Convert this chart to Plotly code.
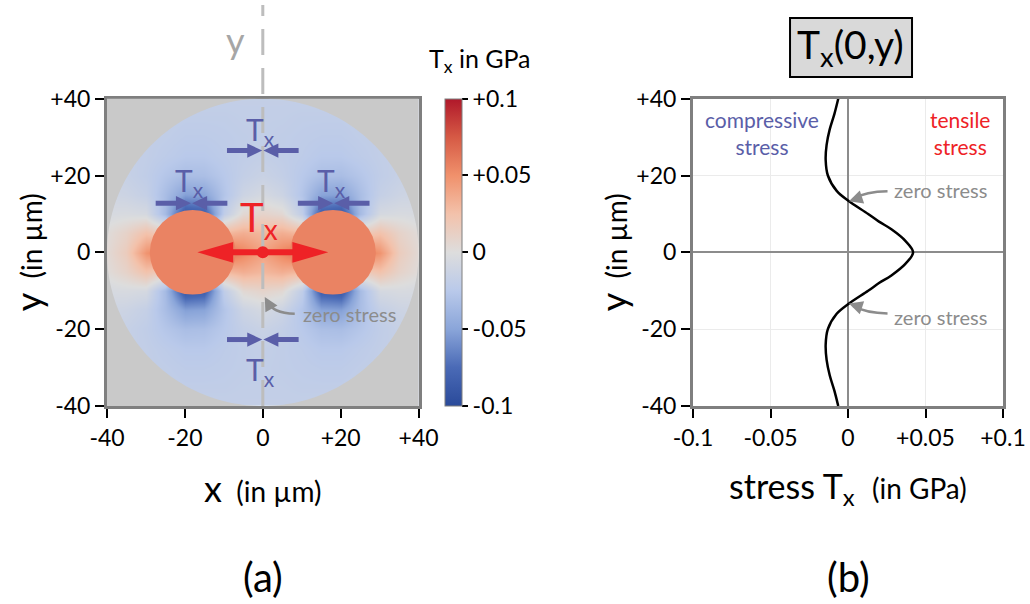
import numpy as np
import plotly.graph_objects as go

# ---------------- data ----------------
# Panel (a): stress field Tx (GPa) read on a 5 µm grid, first quadrant (x>=0, y>=0);
# the field is mirror-symmetric in x and y.
grid_x = [0, 5, 10, 15, 20, 25, 30, 35, 40]
grid_y = [0, 5, 10, 15, 20, 25, 30, 35, 40]
tx_quadrant = [
    [0.041, 0.055, 0.070, 0.067, 0.065, 0.063, 0.048, 0.016, 0.004],     # y = 0
    [0.030, 0.035, 0.029, -0.045, -0.065, 0.016, 0.024, 0.010, 0.002],   # y = 5
    [0.009, 0.005, -0.020, -0.085, -0.090, -0.035, -0.006, -0.004, -0.005],  # y = 10
    [-0.006, -0.012, -0.028, -0.050, -0.052, -0.033, -0.017, -0.012, -0.010],  # y = 15
    [-0.014, -0.018, -0.025, -0.032, -0.033, -0.027, -0.020, -0.016, -0.014],  # y = 20
    [-0.018, -0.020, -0.022, -0.025, -0.025, -0.022, -0.019, -0.017, -0.016],  # y = 25
    [-0.019, -0.020, -0.021, -0.022, -0.022, -0.020, -0.019, -0.018, -0.017],  # y = 30
    [-0.019, -0.019, -0.020, -0.020, -0.020, -0.019, -0.018, -0.017, -0.017],  # y = 35
    [-0.018, -0.018, -0.018, -0.018, -0.018, -0.018, -0.017, -0.017, -0.017],  # y = 40
]
inclusion_centers = [-18, 18]   # µm
inclusion_radius = 11           # µm
disk_radius = 40                # µm

# Panel (b): profile Tx(0, y)
y_line = [40, 36, 32, 28, 24, 20, 16, 13.5, 10, 8, 6, 3, 0,
          -3, -6, -8, -10, -13.5, -16, -20, -24, -28, -32, -36, -40]
tx_line = [-0.0063, -0.0088, -0.0118, -0.0138, -0.0144, -0.0130, -0.0073, 0.0, 0.013, 0.020,
           0.028, 0.037, 0.042,
           0.037, 0.028, 0.020, 0.013, 0.0, -0.0073, -0.0130, -0.0144, -0.0138, -0.0118, -0.0088, -0.0063]

pos_ticks = [-40, -20, 0, 20, 40]
pos_ticktext = ['-40', '-20', '0', '+20', '+40']
stress_ticks = [-0.1, -0.05, 0, 0.05, 0.1]
stress_ticktext = ['-0.1', '-0.05', '0', '+0.05', '+0.1']

# ---------------- build full field by mirroring ----------------
Q = np.array(tx_quadrant)
rows = np.vstack([Q[:0:-1], Q])
field = np.hstack([rows[:, :0:-1], rows])
xs_full = [-v for v in grid_x[:0:-1]] + grid_x
ys_full = [-v for v in grid_y[:0:-1]] + grid_y

FONT = "Lato"
BLUE = "#5A5EA8"
RED = "#EE2226"
GRAY_TXT = "#8C8C8C"
FRAME = "#7F7F7F"
TICK = 23

W, H = 1030, 604
def px(x):
    return x / W
def py(y):
    return 1 - y / H

colorscale = [
    [0.0, '#2A4A9A'], [0.125, '#4A6AB6'], [0.25, '#8AA5D9'], [0.375, '#B9C9EA'],
    [0.5, '#DDDDDD'], [0.625, '#F3C2AB'], [0.75, '#F0916C'], [0.875, '#D65A45'],
    [1.0, '#B0182A']]

fig = go.Figure()
fig.add_trace(go.Heatmap(
    x=xs_full, y=ys_full, z=field, zmin=-0.1, zmax=0.1, zsmooth='best',
    colorscale=colorscale, xaxis='x', yaxis='y', hoverinfo='skip',
    colorbar=dict(x=px(445), xanchor='left', xpad=0, y=py(252), yanchor='middle',
                  len=307 / H, ypad=0, thickness=17, outlinewidth=1, outlinecolor=FRAME,
                  ticks='outside', ticklen=6, tickwidth=2, tickcolor='black',
                  tickvals=stress_ticks, ticktext=stress_ticktext,
                  tickfont=dict(family=FONT, size=TICK, color='black'))))

fig.add_trace(go.Scatter(
    x=tx_line, y=y_line, mode='lines', xaxis='x2', yaxis='y2',
    line=dict(color='black', width=2.5, shape='spline'), hoverinfo='skip', showlegend=False))

shapes = []
# gray region outside the disk
theta = np.linspace(0, 2 * np.pi, 241)
circ = " ".join(f"L{disk_radius*np.cos(t):.3f},{disk_radius*np.sin(t):.3f}" for t in theta[1:])
mask_path = f"M-60,-60 L60,-60 L60,60 L-60,60 Z M{disk_radius:.3f},0 " + circ + " Z"
shapes.append(dict(type='path', path=mask_path, xref='x', yref='y', fillcolor='#C9C9C9',
                   fillrule='evenodd', line=dict(width=0)))
# inclusions
for c in inclusion_centers:
    shapes.append(dict(type='circle', xref='x', yref='y',
                       x0=c - inclusion_radius, x1=c + inclusion_radius,
                       y0=-inclusion_radius, y1=inclusion_radius,
                       fillcolor='#EA8363', line=dict(width=0)))
# dashed y line
shapes.append(dict(type='line', xref='x domain', yref='y domain', x0=0.5, x1=0.5,
                   y0=0, y1=(406 - 5) / 307.3,
                   line=dict(color='#BDBDBD', width=3, dash='26px,13px')))

def compress_arrow(cx, cy, color=BLUE):
    out = []
    for s in (-1, 1):
        out.append(dict(type='line', xref='x', yref='y', x0=cx + s * 9.2, x1=cx + s * 3.6,
                        y0=cy, y1=cy, line=dict(color=color, width=5)))
        out.append(dict(type='path', xref='x', yref='y',
                        path=f"M{cx + s*0.15:.2f},{cy:.2f} L{cx + s*4.0:.2f},{cy + 1.85:.2f} "
                             f"L{cx + s*4.0:.2f},{cy - 1.85:.2f} Z",
                        fillcolor=color, line=dict(width=0)))
    return out

for (cx, cy) in [(0, 26.5), (-18.3, 12.8), (18.2, 12.8), (0, -22.7)]:
    shapes += compress_arrow(cx, cy)

# red double arrow (tension)
shapes.append(dict(type='line', xref='x', yref='y', x0=-8.5, x1=8.5, y0=0, y1=0,
                   line=dict(color=RED, width=6)))
for s in (-1, 1):
    shapes.append(dict(type='path', xref='x', yref='y',
                       path=f"M{s*16.8:.2f},0 L{s*7.6:.2f},2.7 L{s*7.6:.2f},-2.7 Z",
                       fillcolor=RED, line=dict(width=0)))
shapes.append(dict(type='circle', xref='x', yref='y', xsizemode='pixel', ysizemode='pixel',
                   xanchor=0, yanchor=0, x0=-6, x1=6, y0=-6, y1=6,
                   fillcolor=RED, line=dict(width=0)))

# curved "zero stress" arrows
shapes.append(dict(type='path', xref='x', yref='y', path="M8.2,-16.0 Q2.4,-15.9 1.2,-12.6",
                   line=dict(color=GRAY_TXT, width=2.5)))
shapes.append(dict(type='path', xref='x2', yref='y2', path="M0.0255,15.9 Q0.0116,15.8 0.0035,14.0",
                   line=dict(color=GRAY_TXT, width=2.5)))
shapes.append(dict(type='path', xref='x2', yref='y2', path="M0.0255,-15.9 Q0.0116,-15.8 0.0035,-14.0",
                   line=dict(color=GRAY_TXT, width=2.5)))

# title box of panel (b)
shapes.append(dict(type='rect', xref='x2', yref='paper', x0=-0.0374, x1=0.0413,
                   y0=py(77), y1=py(18), fillcolor='#D9D9D9', line=dict(color='black', width=2)))

ann = []
def text(t, x, y, size, color='black', xref='x', yref='y', **kw):
    ann.append(dict(text=t, x=x, y=y, xref=xref, yref=yref, showarrow=False,
                    xanchor='center', yanchor='middle',
                    font=dict(family=FONT, size=size, color=color), **kw))

def head(x, y, ax, ay, xref, yref):
    ann.append(dict(text='', x=x, y=y, xref=xref, yref=yref, ax=ax, ay=ay, showarrow=True,
                    arrowhead=2, arrowsize=1.1, arrowwidth=2.5, arrowcolor=GRAY_TXT, standoff=0))

head(0.5, -11.6, 5, 9, 'x', 'y')
head(0.0006, 13.3, 9, -3, 'x2', 'y2')
head(0.0006, -13.3, 9, 3, 'x2', 'y2')

# panel (a) texts
text('y', -7, py(40), 36, '#A6A6A6', yref='paper')
text('zero stress', 22.2, -16.0, 20, GRAY_TXT)
for (tx, ty) in [(-0.5, 31.6), (-18.8, 18.3), (17.6, 18.3), (-0.7, -31.0)]:
    text('T<sub>x</sub>', tx, ty, 30, BLUE)
text('T<sub>x</sub>', -1.0, 8.6, 40, RED)
text('T<sub>x</sub> in GPa', px(480), py(60), 25, xref='paper', yref='paper')
text('<span style="font-size:36px">x</span>\u00a0\u00a0(in µm)', 0, py(488), 28, yref='paper')
text('<span style="font-size:36px">y</span>\u00a0\u00a0(in µm)', px(28), 0, 28, xref='paper',
     textangle=-90)
text('(a)', 0, py(577), 40, yref='paper')

# panel (b) texts
text('T<sub>x</sub>(0,y)', 0.0018, py(47), 39, xref='x2', yref='paper')
text('compressive<br>stress', -0.0555, 31, 21, BLUE, xref='x2', yref='y2')
text('tensile<br>stress', 0.0723, 31, 21, RED, xref='x2', yref='y2')
text('zero stress', 0.0597, 16.3, 20, GRAY_TXT, xref='x2', yref='y2')
text('zero stress', 0.0597, -16.8, 20, GRAY_TXT, xref='x2', yref='y2')
text('stress T<sub>x</sub>\u00a0\u00a0<span style="font-size:28px">(in GPa)</span>', 0.0, py(488), 34,
     xref='x2', yref='paper')
text('<span style="font-size:36px">y</span>\u00a0\u00a0(in µm)', px(613), 0, 28, xref='paper',
     yref='y2', textangle=-90)
text('(b)', 0, py(577), 40, xref='x2', yref='paper')

axis_common = dict(showline=True, linecolor=FRAME, linewidth=3, mirror=True,
                   ticks='outside', ticklen=9, tickwidth=2, tickcolor='black', automargin=False,
                   tickfont=dict(family=FONT, size=TICK, color='black'))

fig.update_layout(
    width=W, height=H, margin=dict(l=0, r=0, t=0, b=0, autoexpand=False),
    paper_bgcolor='white', plot_bgcolor='white', showlegend=False,
    font=dict(family=FONT),
    xaxis=dict(domain=[px(107), px(418.6)], range=[-40, 40], tickvals=pos_ticks,
               ticktext=pos_ticktext, showgrid=False, zeroline=False, anchor='y', **axis_common),
    yaxis=dict(domain=[py(406), py(98.7)], range=[-40, 40], tickvals=pos_ticks,
               ticktext=pos_ticktext, showgrid=False, zeroline=False, anchor='x', **axis_common),
    xaxis2=dict(domain=[px(693), px(1003)], range=[-0.1, 0.1], tickvals=stress_ticks,
                ticktext=stress_ticktext, showgrid=True, gridcolor='#EBEBEB', gridwidth=1,
                zeroline=True, zerolinecolor='#8C8C8C', zerolinewidth=1.5, anchor='y2',
                **axis_common),
    yaxis2=dict(domain=[py(406), py(98.7)], range=[-40, 40], tickvals=pos_ticks,
                ticktext=pos_ticktext, showgrid=True, gridcolor='#EBEBEB', gridwidth=1,
                zeroline=True, zerolinecolor='#8C8C8C', zerolinewidth=1.5, anchor='x2',
                **axis_common),
    shapes=shapes, annotations=ann,
)

fig.write_html("out.html", config={'displayModeBar': False},
               post_script="document.body.style.margin='0';document.body.style.overflow='hidden';")
